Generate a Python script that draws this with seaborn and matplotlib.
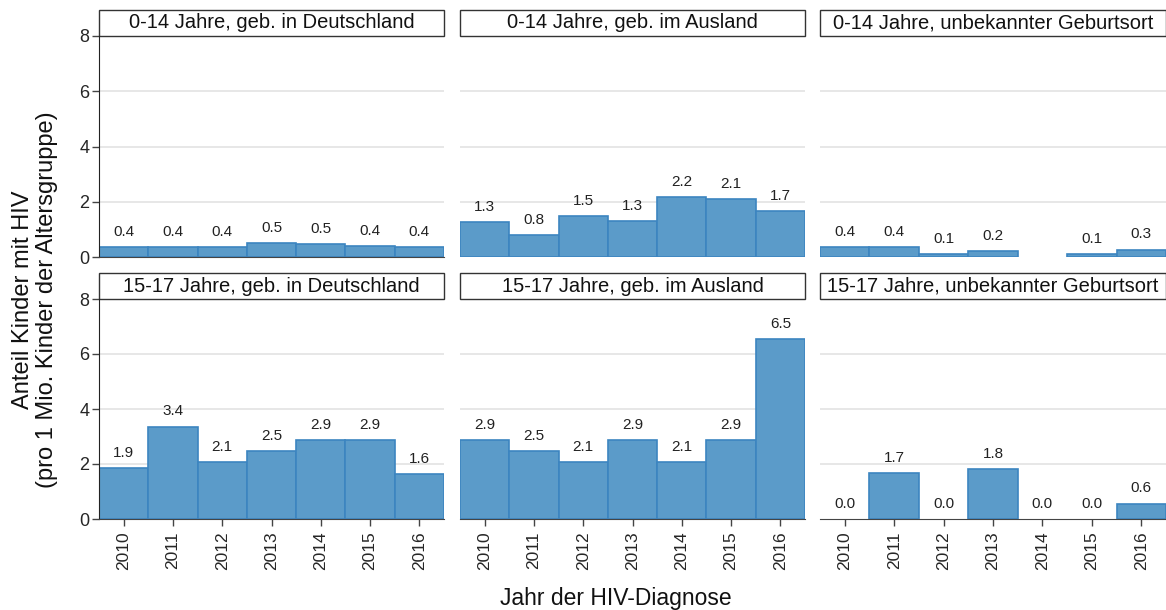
import matplotlib
matplotlib.use('Agg')
import matplotlib.pyplot as plt
from matplotlib.patches import Rectangle
import numpy as np
import pandas as pd
import seaborn as sns

years = ['2010', '2011', '2012', '2013', '2014', '2015', '2016']

# Anteil pro 1 Mio. Kinder der Altersgruppe
u14_de = [0.36, 0.36, 0.36, 0.50, 0.47, 0.40, 0.36]
u14_ausland = [1.27, 0.80, 1.49, 1.30, 2.17, 2.10, 1.66]
u14_unbekannt = [0.36, 0.36, 0.10, 0.20, np.nan, 0.10, 0.26]
a15_de = [1.86, 3.36, 2.06, 2.46, 2.86, 2.86, 1.62]
a15_ausland = [2.87, 2.47, 2.06, 2.86, 2.06, 2.86, 6.54]
a15_unbekannt = [0.0, 1.66, 0.0, 1.82, 0.0, 0.0, 0.56]

panels = [
    ('0-14 Jahre, geb. in Deutschland', u14_de),
    ('0-14 Jahre, geb. im Ausland', u14_ausland),
    ('0-14 Jahre, unbekannter Geburtsort', u14_unbekannt),
    ('15-17 Jahre, geb. in Deutschland', a15_de),
    ('15-17 Jahre, geb. im Ausland', a15_ausland),
    ('15-17 Jahre, unbekannter Geburtsort', a15_unbekannt),
]

sns.set_style('white')
plt.rcParams['font.family'] = ['Liberation Sans', 'DejaVu Sans']

fig = plt.figure(figsize=(11.66, 6.10), dpi=100)

W, H = 1166, 610
lefts = [99, 460, 820]
widths = [345, 345, 346]
rows = [(36, 257), (299, 519)]

bar_color = '#5b9bc9'
edge_color = '#3c85c0'

for i, (title, vals) in enumerate(panels):
    r, c = divmod(i, 3)
    top, bottom = rows[r]
    ax = fig.add_axes([lefts[c] / W, (H - bottom) / H, widths[c] / W, (bottom - top) / H])
    df = pd.DataFrame({'Jahr': years, 'Wert': vals})
    sns.barplot(data=df, x='Jahr', y='Wert', width=1.0, color=bar_color,
                edgecolor=edge_color, linewidth=1.2, saturation=1, ax=ax)
    # zero-height bars leave no visible outline
    for p in ax.patches:
        if p.get_height() == 0:
            p.set_linewidth(0)
    ax.set_ylim(0, 8)
    ax.set_xlim(-0.5, 6.5)
    ax.set_yticks([0, 2, 4, 6, 8])
    for y in [2, 4, 6]:
        ax.axhline(y, color='#e3e3e3', lw=1.2, zorder=0)
    ax.set_axisbelow(True)
    ax.set_xlabel('')
    ax.set_ylabel('')

    for k, v in enumerate(vals):
        if np.isnan(v):
            continue
        ax.annotate(f'{v:.1f}', (k, v), xytext=(0, 6), textcoords='offset points',
                    ha='center', va='bottom', fontsize=11, color='#222222')

    for s in ax.spines.values():
        s.set_visible(False)
    if c == 0:
        ax.spines['left'].set_visible(True)
        ax.spines['left'].set_color('#222222')
        ax.spines['bottom'].set_visible(True)
        ax.spines['bottom'].set_color('#444444')
        ax.tick_params(axis='y', left=True, length=5, width=1, color='#444444',
                       labelsize=13, pad=2)
    else:
        ax.tick_params(axis='y', left=False, labelleft=False)
    if r == 1:
        ax.spines['bottom'].set_visible(True)
        ax.spines['bottom'].set_color('#444444')
        ax.tick_params(axis='x', bottom=True, length=5, width=1, color='#444444',
                       labelsize=12.5, labelrotation=90, pad=4)
    else:
        ax.tick_params(axis='x', bottom=False, labelbottom=False)

    # strip title box
    sh = 26 / (bottom - top)
    ax.add_patch(Rectangle((0, 1.0), 1, sh, transform=ax.transAxes, clip_on=False,
                           facecolor='white', edgecolor='#333333', lw=1))
    ax.text(0.5, 1.0 + sh / 2, title, transform=ax.transAxes, ha='center',
            va='center', fontsize=14.5, color='#111111')

fig.text(35 / W, (H - 300) / H,
         'Anteil Kinder mit HIV\n(pro 1 Mio. Kinder der Altersgruppe)',
         rotation=90, ha='center', va='center', fontsize=17, color='#111111',
         linespacing=1.15)
fig.text(616 / W, 12 / H, 'Jahr der HIV-Diagnose', ha='center', va='center',
         fontsize=16.5, color='#111111')

fig.savefig('out.png', dpi=100)
